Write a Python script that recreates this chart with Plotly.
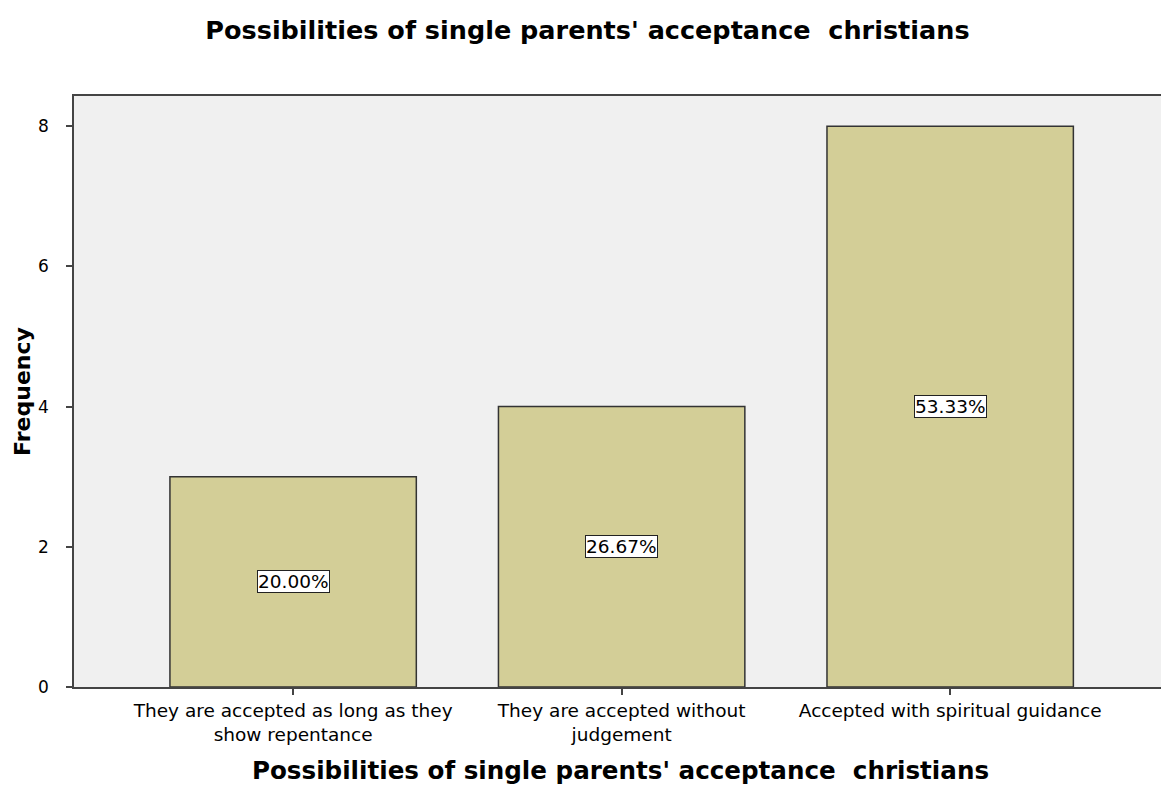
import plotly.graph_objects as go

# categorias y frecuencias
categorias = ["They are accepted as long as they<br>show repentance",
              "They are accepted without<br>judgement",
              "Accepted with spiritual guidance"]
frecuencias = [3, 4, 8]
porcentajes = ["20.00%", "26.67%", "53.33%"]

titulo = "Possibilities of single parents' acceptance  christians"
fuente = "DejaVu Sans"

fig = go.Figure()

fig.add_trace(go.Bar(x=categorias, y=frecuencias,
                     width=0.75,
                     marker=dict(color="#D3CE97",
                                 line=dict(color="#333333", width=1.5)),
                     showlegend=False, hoverinfo="skip"))

# etiquetas de porcentaje en el centro de cada barra
for c, f, p in zip(categorias, frecuencias, porcentajes):
    fig.add_annotation(x=c, y=f / 2, text=p, showarrow=False,
                       font=dict(size=18.5, color="black", family=fuente),
                       bgcolor="white", bordercolor="#222222", borderwidth=1,
                       borderpad=0)

# la página tiene 8px de margen, así que la figura se achica para caber
fig.update_layout(
    width=1161, height=777,
    paper_bgcolor="white", plot_bgcolor="#F0F0F0",
    margin=dict(l=66, r=2, t=88, b=98),
    font=dict(family=fuente, size=17, color="black"),
    title=dict(text=f"<b>{titulo}</b>", x=0.4991, xanchor="center",
               y=0.972, yanchor="middle",
               font=dict(size=25.5, family=fuente)),
    bargap=0.25,
)

fig.update_xaxes(range=[-0.667, 2.66], showline=True, linecolor="#444444",
                 linewidth=1.5, mirror=True, ticks="outside", ticklen=6,
                 tickcolor="#444444", tickwidth=1.5, automargin=False,
                 tickfont=dict(size=18.5),
                 title=dict(text=f"<b>{titulo}</b>", standoff=19,
                            font=dict(size=24.6)))

fig.update_yaxes(range=[0, 8.43], showline=True, linecolor="#444444",
                 linewidth=1.5, mirror=True, ticks="outside", ticklen=6,
                 tickcolor="#444444", tickwidth=1.5, showgrid=False,
                 zeroline=False, tickvals=[0, 2, 4, 6, 8], automargin=False,
                 ticklabelstandoff=14,
                 tickfont=dict(size=17),
                 title=dict(text="<b>Frequency</b>", standoff=1,
                            font=dict(size=22)))

fig.write_html("out.html")
